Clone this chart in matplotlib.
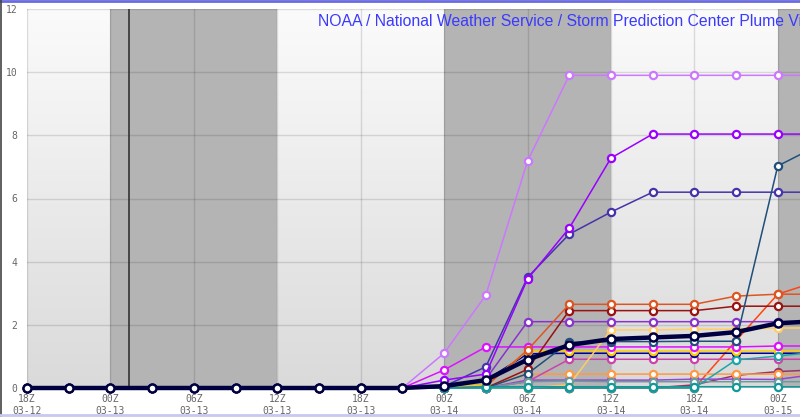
import numpy as np
import matplotlib
matplotlib.use('Agg')
import matplotlib.pyplot as plt
from matplotlib.colors import LinearSegmentedColormap
from matplotlib.lines import Line2D

# forecast hours from 18Z 03-12, every 3 hours
hours = [0, 3, 6, 9, 12, 15, 18, 21, 24, 27, 30, 33, 36, 39, 42, 45, 48, 51, 54, 57]

tickHours = [0, 6, 12, 18, 24, 30, 36, 42, 48, 54]
tickLabels = ['18Z\n03-12', '00Z\n03-13', '06Z\n03-13', '12Z\n03-13', '18Z\n03-13',
              '00Z\n03-14', '06Z\n03-14', '12Z\n03-14', '18Z\n03-14', '00Z\n03-15']

nightStart = [6, 30, 54]
nightEnd = [18, 42, 60]
nowHour = 7.35

# members
violet = [0, 0, 0, 0, 0, 0, 0, 0, 0, 0, 1.1, 2.94, 7.18, 9.9, 9.9, 9.9, 9.9, 9.9, 9.9, 9.9]
purple = [0, 0, 0, 0, 0, 0, 0, 0, 0, 0, 0.25, 0.44, 3.45, 5.06, 7.28, 8.04, 8.04, 8.04, 8.04, 8.04]
slate = [0, 0, 0, 0, 0, 0, 0, 0, 0, 0, 0.05, 0.67, 3.5, 4.87, 5.57, 6.2, 6.2, 6.2, 6.2, 6.2]
steel = [0, 0, 0, 0, 0, 0, 0, 0, 0, 0, 0, 0, 0.45, 1.45, 1.47, 1.47, 1.48, 1.48, 7.03, 7.7]
sienna = [0, 0, 0, 0, 0, 0, 0, 0, 0, 0, 0, 0.05, 1.2, 2.65, 2.65, 2.65, 2.65, 2.91, 2.97, 2.97]
redOrange = [0, 0, 0, 0, 0, 0, 0, 0, 0, 0, 0, 0, 0, 0, 0, 0, 0, 1.5, 2.97, 3.4]
darkRed = [0, 0, 0, 0, 0, 0, 0, 0, 0, 0, 0, 0, 0.59, 2.45, 2.45, 2.45, 2.45, 2.59, 2.59, 2.59]
orchid = [0, 0, 0, 0, 0, 0, 0, 0, 0, 0, 0, 0.28, 2.1, 2.1, 2.1, 2.1, 2.1, 2.1, 2.1, 2.1]
peach = [0, 0, 0, 0, 0, 0, 0, 0, 0, 0, 0, 0, 0, 0.1, 1.84, 1.84, 1.86, 1.86, 1.9, 1.9]
magenta = [0, 0, 0, 0, 0, 0, 0, 0, 0, 0, 0.57, 1.3, 1.3, 1.3, 1.3, 1.3, 1.3, 1.3, 1.33, 1.33]
gold = [0, 0, 0, 0, 0, 0, 0, 0, 0, 0, 0, 0.1, 1.17, 1.17, 1.17, 1.17, 1.17, 1.17, 1.17, 1.17]
navy = [0, 0, 0, 0, 0, 0, 0, 0, 0, 0, 0, 0.25, 1.08, 1.1, 1.1, 1.1, 1.1, 1.1, 1.1, 1.1]
pink = [0, 0, 0, 0, 0, 0, 0, 0, 0, 0, 0, 0, 0.2, 0.91, 0.91, 0.91, 0.91, 0.91, 0.91, 0.91]
orange = [0, 0, 0, 0, 0, 0, 0, 0, 0, 0, 0, 0.04, 0.44, 0.44, 0.44, 0.44, 0.44, 0.44, 0.44, 0.44]
grape = [0, 0, 0, 0, 0, 0, 0, 0, 0, 0, 0, 0, 0.25, 0.25, 0.25, 0.25, 0.28, 0.28, 0.27, 0.45]
cadet = [0, 0, 0, 0, 0, 0, 0, 0, 0, 0, 0, 0, 0.2, 0.22, 0.2, 0.2, 0.2, 0.2, 0.2, 0.2]
maroon = [0, 0, 0, 0, 0, 0, 0, 0, 0, 0, 0, 0, 0, 0, 0, 0, 0.1, 0.4, 0.52, 0.58]
tealUp = [0, 0, 0, 0, 0, 0, 0, 0, 0, 0, 0, 0, 0, 0, 0, 0, 0, 0.89, 1.01, 1.15]
teal = [0, 0, 0, 0, 0, 0, 0, 0, 0, 0, 0, 0.04, 0.04, 0.04, 0.04, 0.04, 0.04, 0.04, 0.04, 0.04]
mean = [0, 0, 0, 0, 0, 0, 0, 0, 0, 0, 0.06, 0.25, 0.9, 1.36, 1.55, 1.6, 1.65, 1.77, 2.05, 2.12]

# drawing order: first in list is drawn at the bottom
members = [
  (redOrange, '#ff4411'), (maroon, '#993366'), (grape, '#9944cc'), (orange, '#ff9944'),
  (pink, '#cc44aa'), (navy, '#000099'), (gold, '#ffcc00'), (magenta, '#dd11ff'),
  (peach, '#ffcc66'), (orchid, '#8833cc'), (darkRed, '#991111'), (sienna, '#dd5522'),
  (steel, '#1f4f7a'), (slate, '#4433aa'), (purple, '#9900ff'), (violet, '#cc77ff'),
  (cadet, '#6a9c9c'), (tealUp, '#1aa8a8'), (teal, '#119999'),
]

xMax = 55.6

fig = plt.figure(figsize=(8, 4.17), dpi=100)
ax = fig.add_axes([27 / 800, 29 / 417, 1 - 27 / 800, 379 / 417])

# background gradient
cmap = LinearSegmentedColormap.from_list('bg', ['#dadada', '#fbfbfb'])
grad = np.linspace(0, 1, 256).reshape(-1, 1)
ax.imshow(grad, extent=[0, xMax, 0, 12], origin='lower', aspect='auto', cmap=cmap, zorder=0)

for s, e in zip(nightStart, nightEnd):
  ax.axvspan(s, e, color='#b4b4b4', zorder=1, lw=0)

ax.axvline(nowHour, color='#333333', lw=1.2, zorder=2)

for h in tickHours:
  ax.axvline(h, color='black', alpha=0.12, lw=1, zorder=1.5)
for v in range(0, 13, 2):
  ax.axhline(v, color='black', alpha=0.12, lw=1, zorder=1.5)

for vals, col in members:
  ax.plot(hours, vals, color=col, lw=1.1, marker='o', ms=5.2, mfc='white',
          mec=col, mew=1.6, zorder=3, clip_on=False)

ax.plot(hours, mean, color='#000040', lw=3.2, marker='o', ms=5.8, mfc='white',
        mec='#000040', mew=1.8, zorder=4, clip_on=False)

ax.set_xlim(0, xMax)
ax.set_ylim(0, 12)
ax.set_xticks(tickHours)
ax.set_xticklabels(tickLabels, family='DejaVu Sans Mono', fontsize=7, color='#666666',
                   linespacing=1.25)
ax.set_yticks(range(0, 13, 2))
ax.set_yticklabels([str(v) for v in range(0, 13, 2)], family='DejaVu Sans Mono',
                   fontsize=7, color='#666666')
ax.tick_params(axis='both', length=0)
ax.tick_params(axis='x', pad=4)
ax.tick_params(axis='y', pad=7)
for sp in ax.spines.values():
  sp.set_visible(False)

fig.text(318 / 800, 1 - 21 / 417, 'NOAA / National Weather Service / Storm Prediction Center Plume Viewer',
         family='Liberation Sans', fontsize=11.3, color='#3a3aff', va='center', ha='left')

# frame lines
fig.add_artist(Line2D([0, 1], [0.998, 0.998], transform=fig.transFigure, color='#6a6ae0', lw=2))
fig.add_artist(Line2D([0.0008, 0.0008], [0, 1], transform=fig.transFigure, color='#444444', lw=1.2))
fig.add_artist(Line2D([0, 1], [0.004, 0.004], transform=fig.transFigure, color='#c8c8f0', lw=2))

fig.savefig('out.png', dpi=100)
